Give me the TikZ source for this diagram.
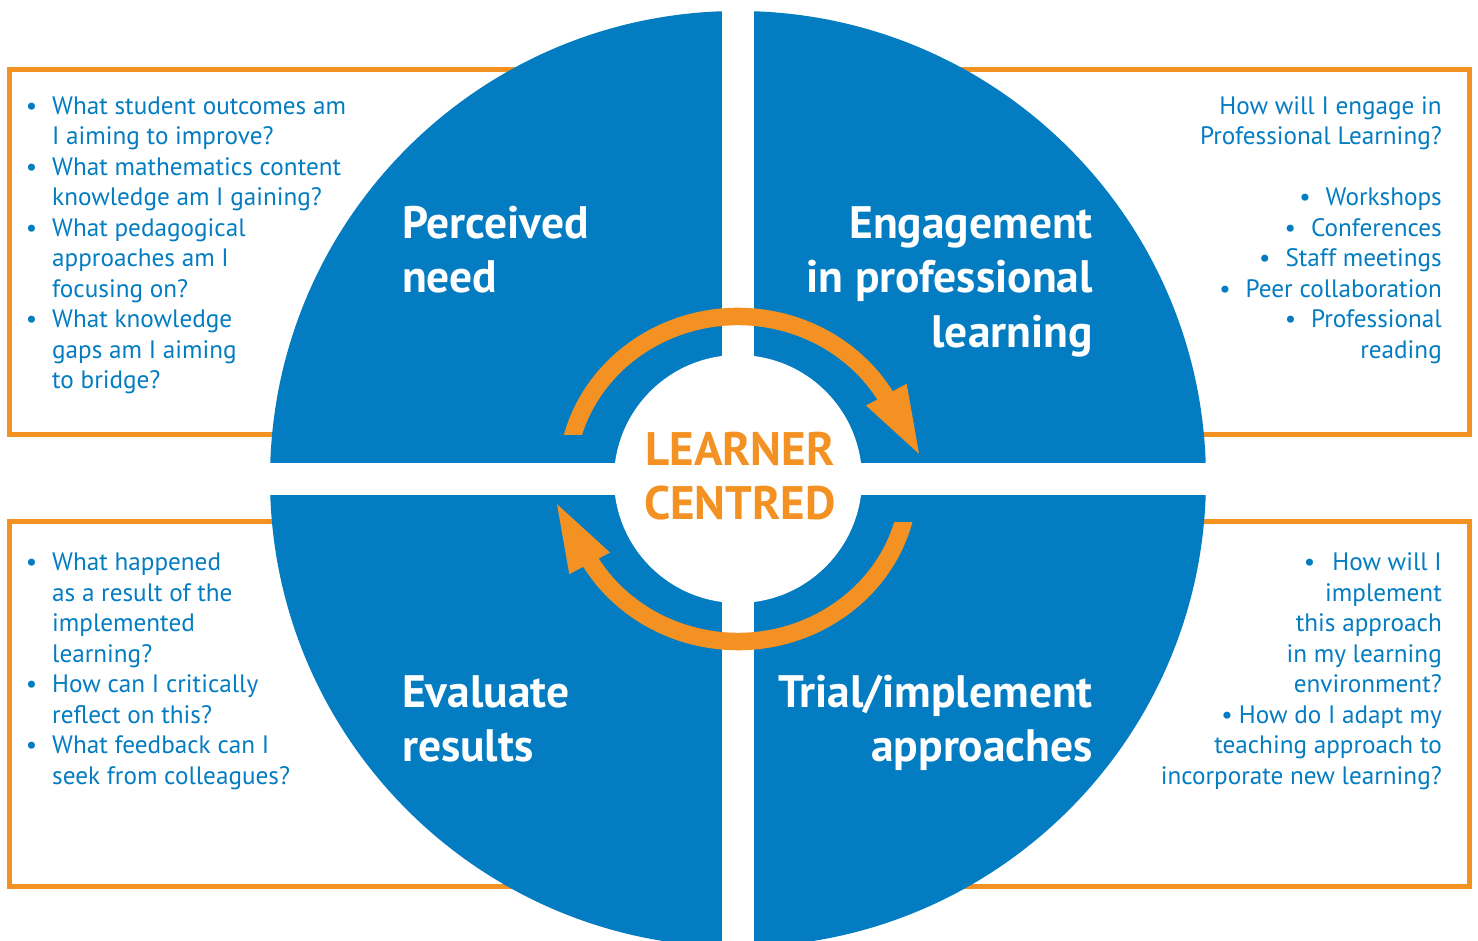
\documentclass[tikz,border=0pt]{standalone}
\usepackage{fontspec}
\setmainfont{PT Sans}
\usepackage{tikz}
\definecolor{lcblue}{RGB}{3,124,194}
\definecolor{lcorange}{RGB}{243,146,34}
\newcommand{\qbul}{\llap{\textbullet\hspace{15pt}}}

\begin{document}
\begin{tikzpicture}[x=1pt, y=1pt]
	\useasboundingbox (-738,-462) rectangle (740,479);
      \tikzstyle{frame} = [draw=lcorange, line width=5]
      \tikzstyle{question} = [text=lcblue, inner sep=0, font=\fontsize{25.2}{30.5}\selectfont]
      \tikzstyle{stage} = [text=white, inner sep=0, font=\bfseries\fontsize{45.5}{54.5}\selectfont]
      \tikzstyle{cycle} = [draw=lcorange, line width=17.5]
      \draw[frame] (-728.5,44.5) rectangle (731.5,409);
      \draw[frame] (-728.5,-407.5) rectangle (731.5,-42.5);
      \fill[lcblue] (0,0) circle (468);
      \fill[white] (-16,-470) rectangle (16,470);
      \fill[white] (-470,-16) rectangle (470,16);
      \fill[white] (0,0) circle (124);
      \begin{scope}
        \clip (-200,44) rectangle (200,200);
        \draw[cycle] (168:171.5 and 162.5) arc[start angle=168, end angle=29.5, x radius=171.5, y radius=162.5];
      \end{scope}
      \fill[lcorange] (168.7,95.2) -- (181,25.2) -- (128,73.5) -- cycle;
      \begin{scope}
        \clip (-200,-200) rectangle (200,-44);
        \draw[cycle] (348:171.5 and 162.5) arc[start angle=348, end angle=209.5, x radius=171.5, y radius=162.5];
      \end{scope}
      \fill[lcorange] (-168.7,-95.2) -- (-181,-25.2) -- (-128,-73.5) -- cycle;
      \node (centre) at (2,-41) [anchor=base, align=center, inner sep=0, text=lcorange, font=\bfseries\fontsize{47}{54}\selectfont] {LEARNER\\CENTRED};
      \node (need) at (-336,186.3) [stage, anchor=base west, align=left] {Perceived\\need};
      \node (engage) at (355,131.7) [stage, anchor=base east, align=right] {Engagement\\in professional\\learning};
      \node (evaluate) at (-336,-282.8) [stage, anchor=base west, align=left] {Evaluate\\results};
      \node (trial) at (355,-282.8) [stage, anchor=base east, align=right] {Trial/implement\\approaches};
      \node (needq) at (-686,90.2) [question, anchor=base west, align=left] {\qbul What student outcomes am\\I aiming to improve?\\\qbul What mathematics content\\knowledge am I gaining?\\\qbul What pedagogical\\approaches am I\\focusing on?\\\qbul What knowledge\\gaps am I aiming\\to bridge?};
      \node (engageq) at (704,120.7) [question, anchor=base east, align=right] {How will I engage in\\Professional Learning?\\[30.5pt]\textbullet\hspace{15pt}Workshops\\\textbullet\hspace{15pt}Conferences\\\textbullet\hspace{15pt}Staff meetings\\\textbullet\hspace{15pt}Peer collaboration\\\textbullet\hspace{15pt}Professional\\reading};
      \node (evaluateq) at (-686,-305.5) [question, anchor=base west, align=left] {\qbul What happened\\as a result of the\\implemented\\learning?\\\qbul How can I critically\\reflect on this?\\\qbul What feedback can I\\seek from colleagues?};
      \node (trialq) at (704,-305.5) [question, anchor=base east, align=right] {\textbullet\hspace{17pt}How will I\\implement\\this approach\\in my learning\\environment?\\\textbullet\hspace{6pt}How do I adapt my\\teaching approach to\\incorporate new learning?};
\end{tikzpicture}
\end{document}
